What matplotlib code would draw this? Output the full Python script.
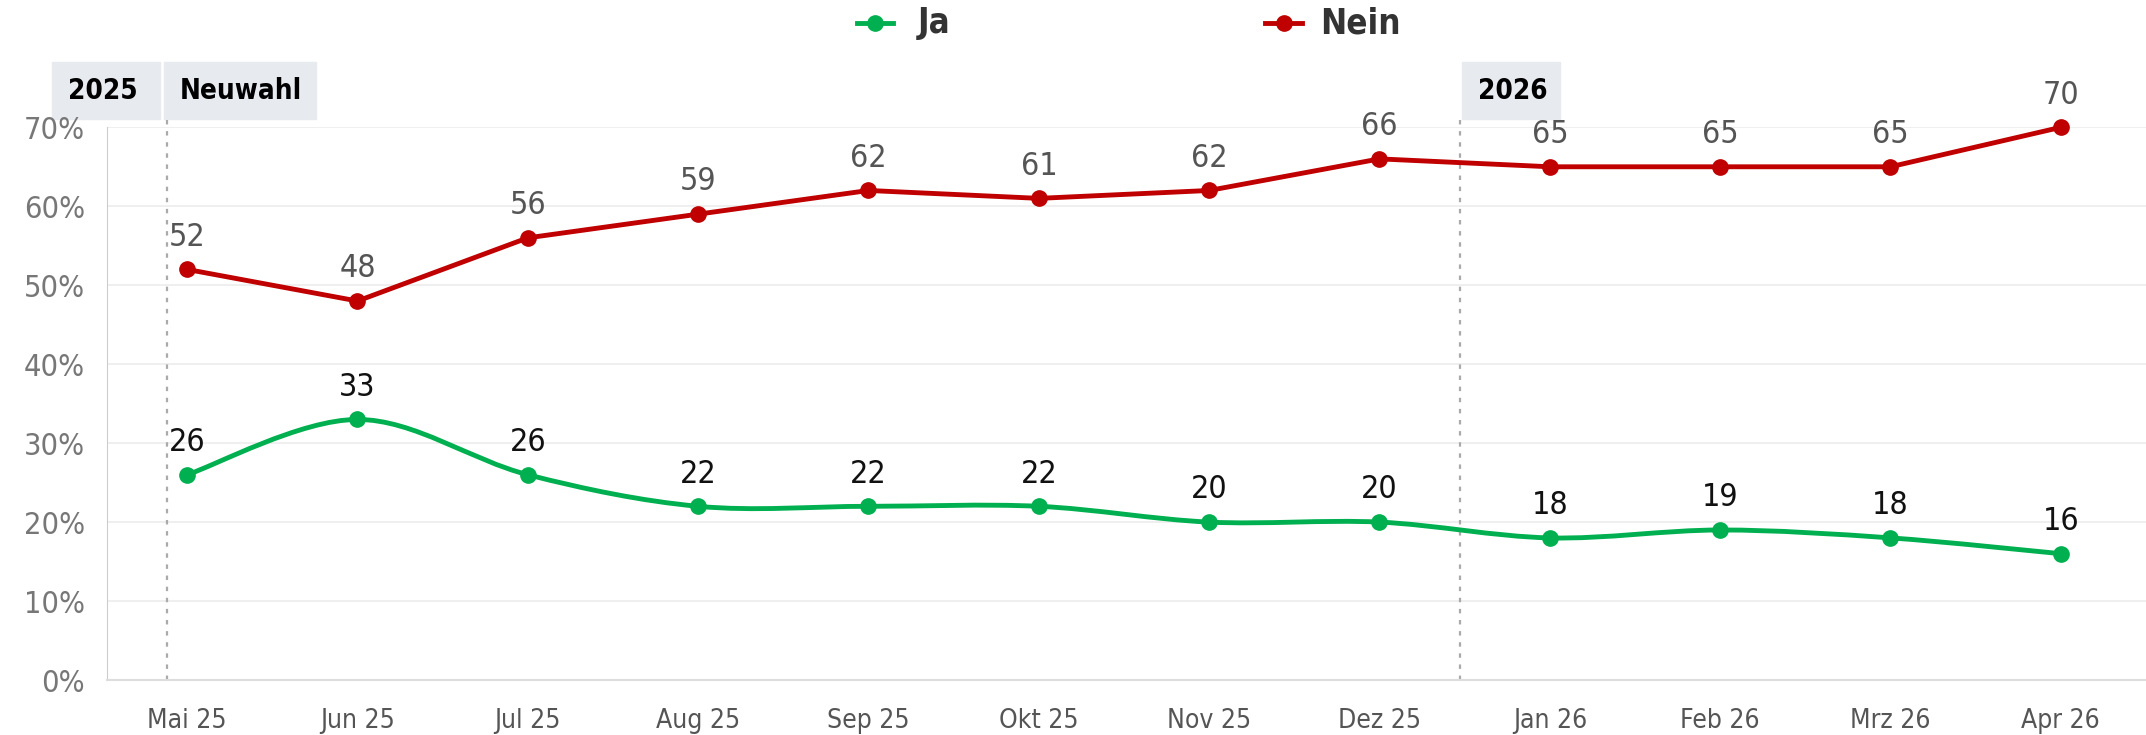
import numpy as np
import matplotlib.pyplot as plt
from matplotlib.path import Path
from matplotlib.patches import PathPatch, Rectangle

plt.rcParams['font.family'] = ['DejaVu Sans']
plt.rcParams['font.stretch'] = 'condensed'

months = ["Mai 25", "Jun 25", "Jul 25", "Aug 25", "Sep 25", "Okt 25",
          "Nov 25", "Dez 25", "Jan 26", "Feb 26", "Mrz 26", "Apr 26"]
ja = [26, 33, 26, 22, 22, 22, 20, 20, 18, 19, 18, 16]
nein = [52, 48, 56, 59, 62, 61, 62, 66, 65, 65, 65, 70]
yticks = [0, 10, 20, 30, 40, 50, 60, 70]

GREEN = "#00b050"
RED = "#c00000"

fig = plt.figure(figsize=(21.46, 7.35), dpi=100)
ax = fig.add_axes([0.0499, 0.0748, 0.9501, 0.752])
ax.patch.set_alpha(0)
x = np.arange(len(months))

# smooth line for Ja (cubic bezier through points)
verts = [(x[0], ja[0])]
codes = [Path.MOVETO]
n = len(x)
for i in range(n - 1):
    p0 = np.array([x[max(i - 1, 0)], ja[max(i - 1, 0)]], float)
    p1 = np.array([x[i], ja[i]], float)
    p2 = np.array([x[i + 1], ja[i + 1]], float)
    p3 = np.array([x[min(i + 2, n - 1)], ja[min(i + 2, n - 1)]], float)
    c1 = p1 + (p2 - p0) / 6
    c2 = p2 - (p3 - p1) / 6
    verts += [tuple(c1), tuple(c2), tuple(p2)]
    codes += [Path.CURVE4] * 3
ax.add_patch(PathPatch(Path(verts, codes), fill=False, edgecolor=GREEN, lw=3.5, zorder=3))
ax.plot(x, ja, "o", color=GREEN, ms=11, zorder=4, clip_on=False)
ax.plot(x, nein, "-o", color=RED, lw=3.5, ms=11, zorder=4, clip_on=False)

for xi, v in zip(x, ja):
    ax.annotate(str(v), (xi, v), xytext=(0, 12), textcoords="offset points",
                ha="center", va="bottom", fontsize=23, color="#111111")
for xi, v in zip(x, nein):
    ax.annotate(str(v), (xi, v), xytext=(0, 12), textcoords="offset points",
                ha="center", va="bottom", fontsize=23, color="#555555")

ax.set_xlim(-0.47, 11.5)
ax.set_ylim(0, 70)
ax.set_xticks(x)
ax.set_xticklabels(months, fontsize=19, color="#555555")
ax.set_yticks(yticks)
ax.set_yticklabels([f"{t}%" for t in yticks], fontsize=22, color="#777777")
ax.tick_params(axis="x", length=0, pad=20)
ax.tick_params(axis="y", length=0, pad=16)
ax.grid(axis="y", color="#eeeeee", lw=1.3)
ax.set_axisbelow(True)
for s in ["top", "right"]:
    ax.spines[s].set_visible(False)
ax.spines["left"].set_color("#cccccc")
ax.spines["bottom"].set_color("#dddddd")
ax.spines["bottom"].set_linewidth(1.5)

# period markers
for xv in [-0.12, 7.47]:
    ax.plot([xv, xv], [0, 71.2], ls=(0, (2, 3)), color="#aaaaaa", lw=1.6,
            clip_on=False, zorder=2)

boxes = [(52, 160, "2025"), (164, 316, "Neuwahl"), (1462, 1560, "2026")]
for x0, x1, label in boxes:
    fig.patches.append(Rectangle((x0 / 2146, 1 - 119 / 735), (x1 - x0) / 2146, 57 / 735,
                                 transform=fig.transFigure, color="#e7eaef", zorder=-1))
    fig.text((x0 + 16) / 2146, 1 - 91 / 735, label, fontsize=20, fontweight="bold",
             va="center", ha="left", color="black")

# legend
ly = 1 - 23 / 735
fig.add_artist(plt.Line2D([857 / 2146, 893 / 2146], [ly] * 2, color=GREEN, lw=3.5,
                          transform=fig.transFigure))
fig.add_artist(plt.Line2D([875 / 2146], [ly], color=GREEN, marker="o", ms=11,
                          transform=fig.transFigure))
fig.text(918 / 2146, ly, "Ja", fontsize=25, fontweight="bold", color="#333333", va="center")
fig.add_artist(plt.Line2D([1265 / 2146, 1302 / 2146], [ly] * 2, color=RED, lw=3.5,
                          transform=fig.transFigure))
fig.add_artist(plt.Line2D([1284 / 2146], [ly], color=RED, marker="o", ms=11,
                          transform=fig.transFigure))
fig.text(1320 / 2146, ly, "Nein", fontsize=25, fontweight="bold", color="#333333", va="center")

fig.savefig("out.png", dpi=100)
